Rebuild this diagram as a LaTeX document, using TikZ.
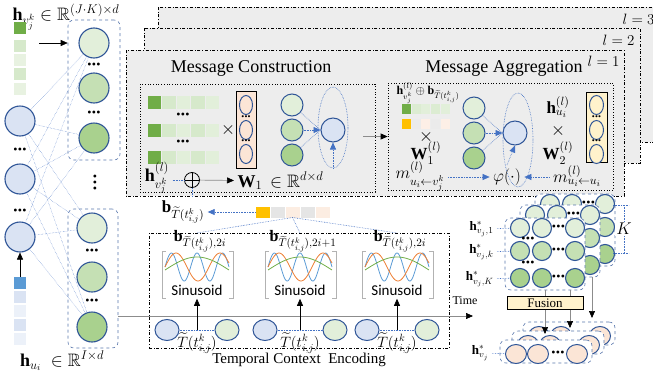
\RequirePackage{fix-cm}
\documentclass[tikz,border=0pt]{standalone}
\usepackage{amsmath}
\usepackage{amssymb}
\usepackage{fontspec}
\setmainfont{Liberation Serif}
\setsansfont{Carlito}
\usepackage{tikz}
\usetikzlibrary{arrows.meta}
\usetikzlibrary{positioning}
\usetikzlibrary{shapes.geometric}

\definecolor{ringblue}{HTML}{2F5597}
\definecolor{linkblue}{HTML}{4472C4}
\definecolor{nodeblue}{HTML}{DAE3F3}
\definecolor{greenA}{HTML}{E2EFDA}
\definecolor{greenB}{HTML}{C5E0B4}
\definecolor{greenC}{HTML}{A9D18E}
\definecolor{greenD}{HTML}{70AD47}
\definecolor{layergray}{HTML}{EDEDED}
\definecolor{peach}{HTML}{FBE5D6}
\definecolor{cream}{HTML}{FFF2CC}
\definecolor{amber}{HTML}{FFC000}
\definecolor{cellblue}{HTML}{5B9BD5}
\definecolor{waveblue}{HTML}{5B9BD5}
\definecolor{waveorange}{HTML}{ED7D31}
\definecolor{wavegreen}{HTML}{70AD47}

\newcommand{\fsz}[1]{\fontsize{#1}{#1}\selectfont}
\newcommand{\tdots}{{\fsz{12}\textbullet\kern0.3pt\textbullet\kern0.3pt\textbullet}}
\newcommand{\tvdots}{{\fsz{12}\baselineskip=6pt\vbox{\hbox{\textbullet}\hbox{\textbullet}\hbox{\textbullet}}}}

\tikzset{
  every picture/.style={font={\fsz{18}}, >={Triangle[width=6pt,length=7pt]}}}

\begin{document}
\begin{tikzpicture}[x=1pt, y=-1pt,
    layerbox/.style={draw, dash dot, fill=layergray, line width=0.5pt},
    inbox/.style={draw, dotted, line width=0.7pt, inner sep=0},
    neuron/.style={circle, draw=ringblue, line width=1.1pt, minimum size=30pt, inner sep=0},
    small neuron/.style={neuron, minimum size=22pt, line width=1pt},
    oval/.style={ellipse, draw=ringblue, line width=1pt, inner sep=0},
    groupbox/.style={draw=ringblue!80, dashed, rounded corners=6pt, inner sep=0, line width=0.6pt},
    cell/.style={inner sep=0, outer sep=0, minimum width=12pt, minimum height=12.5pt},
    link/.style={draw=linkblue, densely dotted, line width=0.6pt},
    flow/.style={draw=black!45, line width=0.7pt},
    blue tip/.style={-{Triangle[width=6pt,length=7pt,color=linkblue]}},
    black tip/.style={-{Triangle[width=6pt,length=7pt,color=black]}},
    heading/.style={font=\fsz{18}}]

  \useasboundingbox (0,0) rectangle (653,375);

  % stacked layers
  \draw[layerbox] (158,7) rectangle (662,142);
  \node (lThree) [anchor=east] at (658,19) {\fsz{15}$l=3$};
  \draw[layerbox] (144,28) rectangle (640,163);
  \node (lTwo) [anchor=east] at (638,40) {\fsz{15}$l=2$};
  \draw[layerbox] (126,50) rectangle (624,196);
  \node (lOne) [anchor=east] at (623,61) {\fsz{15}$l=1$};

  % message construction
  \node[heading] (mcTitle) at (251,68) {Message Construction};
  \node[inbox, minimum width=235pt, minimum height=108pt] (mcBox) at (257.5,138) {};
  \foreach \r/\y in {1/102,2/130,3/157}
    \foreach \c/\col in {1/greenD,2/greenB!70,3/greenA,4/greenB!70,5/greenA}
      \node[cell, fill=\col, minimum width=13.5pt, minimum height=13pt] (mc\r\c) at ({140+14.5*\c},\y) {};
  \node (mcDotsA) at (183,116) {\tdots};
  \node (mcDotsB) at (183,143) {\tdots};
  \node (mcTimes) at (228,130) {$\times$};
  \node[draw, fill=peach, line width=0.9pt, minimum width=20pt, minimum height=77pt, inner sep=0] (wBox) at (246,129.5) {};
  \foreach \y [count=\i] in {105,130,154}
    \node[oval, fill=peach, minimum width=13pt, minimum height=19pt] (wE\i) at (246,\y) {};
  \node[scale=0.7] (wDotsA) at (246,117.5) {\tdots};
  \node[scale=0.7] (wDotsB) at (246,142) {\tdots};
  \foreach \y/\col [count=\i] in {105/greenA,130/greenB,155/greenC}
    \node[small neuron, fill=\col] (mcN\i) at (292,\y) {};
  \node[small neuron, fill=nodeblue, minimum size=24pt] (mcAgg) at (333,130) {};
  \node[ellipse, link, minimum width=30pt, minimum height=81pt, inner sep=0] (mcLoop) at (333,127.5) {};
  \path[link] (mcN1) edge (mcAgg.west) (mcN3) edge (mcAgg.west);
  \path[link, blue tip] (mcN2) edge (mcAgg);
  \draw[link, blue tip] (mcLoop.south) -- (mcAgg.south);
  \node (hvLoc) at (157,178) {$\mathbf{h}^{(l)}_{v_j^k}$};
  \node[circle, draw, line width=0.8pt, minimum size=15pt, inner sep=0] (mcPlus) at (192,180) {};
  \draw[line width=0.8pt] (mcPlus.north) -- (mcPlus.south) (mcPlus.west) -- (mcPlus.east);
  \node[anchor=west] (wLbl) at (234,181) {$\mathbf{W}_1\,\in\mathbb{R}^{d\times d}$};
  \draw[link] (hvLoc.east |- mcPlus) -- (mcPlus);
  \draw[flow, black tip] (mcPlus) -- (wLbl);
  \coordinate (mcOut) at (363,136.5);

  % message aggregation
  \node[heading] (maTitle) at (504,68) {Message Aggregation};
  \node[inbox, minimum width=225pt, minimum height=107pt] (maBox) at (500.5,136.5) {};
  \draw[flow, black tip] (mcOut) -- (maBox.west);
  \node[font=\fsz{12}] (hbLbl) at (428,93) {$\mathbf{h}^{(l)}_{v_j^k}\oplus\mathbf{b}_{\widetilde{T}(t^k_{i,j})}$};
  \foreach \c/\col in {1/greenD,2/greenB!60,3/greenA,4/greenB!60,5/greenA}
    \node[cell, fill=\col, minimum width=9pt, minimum height=10pt] (maG\c) at ({397+9.6*\c},109) {};
  \foreach \c/\col in {1/amber,2/black!8,3/peach!60,4/black!8,5/peach!60}
    \node[cell, fill=\col, minimum width=9pt, minimum height=10pt] (maY\c) at ({397+9.6*\c},124) {};
  \node (maTimesA) at (426,137) {$\times$};
  \node[font=\fsz{17}] (maW1) at (426,153) {$\mathbf{W}^{(l)}_1$};
  \node[font=\fsz{17}] (mLeft) at (420,176) {$m^{(l)}_{u_i\leftarrow v_j^k}$};
  \foreach \y/\col [count=\i] in {108/greenA,133/greenB,158/greenC}
    \node[small neuron, fill=\col] (maN\i) at (474,\y) {};
  \node[small neuron, fill=nodeblue, minimum size=24pt] (maAgg) at (515,133) {};
  \node[ellipse, link, minimum width=30pt, minimum height=94pt, inner sep=0] (maLoop) at (518,140) {};
  \path[link] (maN1) edge (maAgg.west) (maN3) edge (maAgg.west);
  \path[link, blue tip] (maN2) edge (maAgg);
  \node[font=\fsz{17}] (phi) at (507,177) {$\varphi(\cdot)$};
  \node[font=\fsz{17}] (mRight) at (577,176) {$m^{(l)}_{u_i\leftarrow u_i}$};
  \draw[link, blue tip] (mLeft.east |- phi) -- (phi.west);
  \draw[link, blue tip] (mRight.west |- phi) -- (phi.east);
  \draw[link, blue tip] (phi.north) -- (maAgg.south);
  \node[font=\fsz{17}] (huLoc) at (558,107) {$\mathbf{h}^{(l)}_{u_i}$};
  \node (maTimesB) at (558,131) {$\times$};
  \node[font=\fsz{17}] (maW2) at (558,153) {$\mathbf{W}^{(l)}_2$};
  \node[draw, fill=cream, line width=0.9pt, minimum width=21pt, minimum height=70pt, inner sep=0] (w2Box) at (596.5,127) {};
  \foreach \y [count=\i] in {105,130,154}
    \node[oval, fill=cream, minimum width=14pt, minimum height=19pt] (w2E\i) at (596.5,\y) {};
  \node[scale=0.7] (w2DotsA) at (596.5,117.5) {\tdots};
  \node[scale=0.7] (w2DotsB) at (596.5,142) {\tdots};

  % time encoding
  \node[font=\fsz{17}] (bTime) at (183,212) {$\mathbf{b}_{\widetilde{T}(t^k_{i,j})}$};
  \draw[link] (mcPlus.south) -- (mcPlus.south |- bTime.north);
  \foreach \c/\col in {1/amber,2/black!10,3/peach!70,4/black!10,5/peach!70}
    \node[cell, fill=\col, minimum width=14pt, minimum height=11pt] (enc\c) at ({247.5+15*\c},212) {};
  \draw[link, blue tip] (enc1.west) -- (bTime.east);
  \coordinate (timeL) at (118,316);
  \coordinate (timeR) at (473,316);
  \draw[flow, black tip] (timeL) -- (timeR);
  \node[font=\fsz{12}] (timeLbl) at (465,301) {Time};
  \node[draw, dash dot, line width=0.6pt, minimum width=300pt, minimum height=115pt, inner sep=0] (tce) at (299,290.5) {};
  \node[font=\fsz{15}, below=1pt of tce] (tceLbl) {Temporal Context\ \ Encoding};
  \foreach \n/\c/\d/\s in {A/197/30/2i,B/300/35/2i+1,C/397/30/2i} {
    \coordinate (top\n) at (\c,233);
    \draw[link] (enc3.south) -- (top\n);
    \node[font=\fsz{16}] (bLbl\n) at (\c+3,241) {$\mathbf{b}_{\widetilde{T}(t^k_{i,j}),\s}$};
    \begin{scope}[shift={(\c-32,267)}]
      \draw[waveblue, line width=0.8pt] plot[domain=0:64, samples=90, smooth] (\x,{-14*sin(\x*14.0625)});
      \draw[waveorange, line width=0.8pt] plot[domain=0:64, samples=60, smooth] (\x,{-14*sin(\x*8.1818)});
      \draw[wavegreen, line width=0.8pt] plot[domain=0:64, samples=40, smooth] (\x,{3-13*sin(\x*2.8125)});
    \end{scope}
    \node[font=\sffamily\fsz{15}] (sin\n) at (\c,290) {Sinusoid};
    \draw[black!30, line width=0.6pt] (\c-31,251) -| (\c-35,298) -- (\c-31,298);
    \draw[black!30, line width=0.6pt] (\c+32,251) -| (\c+36,298) -- (\c+32,298);
    \node[oval, fill=nodeblue, minimum width=24pt, minimum height=21pt] (tl\n) at (\c-\d,330) {};
    \node[oval, fill=greenA, minimum width=24pt, minimum height=21pt] (tr\n) at (\c+\d,330) {};
    \draw[link] (tl\n) -- (tr\n);
    \coordinate (mid\n) at (\c,330);
    \draw[black tip, line width=0.6pt] (mid\n) -- (sin\n.south);
    \node[font=\fsz{15}] (tLbl\n) at (\c,343) {$\widetilde{T}(t^k_{i,j})$};
  }

  % left column
  \node (hvLbl) at (66,17) {$\mathbf{h}_{v_j^k}\in\mathbb{R}^{(J\cdot K)\times d}$};
  \foreach \y/\col [count=\i] in {28/greenD,46/greenB!70,60/greenA!80,74/greenB!70,89/greenA!80}
    \node[cell, fill=\col] (vc\i) at (20,\y) {};
  \foreach \y/\col [count=\i] in {283/cellblue,297/nodeblue,311/nodeblue!50,325/nodeblue,339/nodeblue!50}
    \node[cell, fill=\col] (uc\i) at (20,\y) {};
  \node (huLbl) at (62,361) {$\mathbf{h}_{u_i}\ \in\mathbb{R}^{I\times d}$};
  \node[groupbox, minimum width=52pt, minimum height=140pt] (gTbox) at (94,90) {};
  \node[groupbox, minimum width=50pt, minimum height=139pt] (gBbox) at (93,278.5) {};
  \coordinate (vIn) at (39,43);
  \draw[black tip, line width=0.6pt] (vIn) -- (gTbox.west |- vIn);
  \foreach \y [count=\i] in {121,179,237}
    \node[neuron, fill=nodeblue] (uL\i) at (20,\y) {};
  \foreach \y/\col [count=\i] in {43/greenA,88/greenB,138/greenC}
    \node[neuron, fill=\col] (gT\i) at (94,\y) {};
  \foreach \y/\col [count=\i] in {228/greenA,277/greenB,327/greenC}
    \node[neuron, fill=\col] (gB\i) at (92,\y) {};
  \foreach \a in {1,2,3}
    \foreach \b in {gT1,gT3,gB1,gB3}
      \draw[link, line width=0.4pt] (uL\a) -- (\b);
  \node (uDotsA) at (20,151) {\tdots};
  \node (uDotsB) at (20,212) {\tdots};
  \node (gDotsA) at (94,66) {\tdots};
  \node (gDotsB) at (94,114) {\tdots};
  \node (gDotsC) at (92,252) {\tdots};
  \node (gDotsD) at (92,302) {\tdots};
  \node (gDotsV) at (95,184) {\tvdots};
  \draw[black tip, line width=0.6pt] (uc1.north) -- (uL3.south);

  % neighbour layers
  \foreach \l/\dx/\dy in {3/30/-24,2/15/-13,1/0/0} {
    \node[groupbox, fill=white, minimum width=80pt, minimum height=72pt] (kBox\l) at (545+\dx,254+\dy) {};
    \foreach \r/\y/\col in {1/228/greenA,2/251/greenB,3/278/greenC} {
      \foreach \cc/\x in {1/520,2/542,3/575}
        \node[neuron, minimum size=19pt, fill=\col] (k\l-\r-\cc) at (\x+\dx,\y+\dy) {};
      \node (kd\l-\r) at (558.5+\dx,\y+\dy) {\tdots};
    }
    \node (kv\l-1) at (528+\dx,240+\dy) {\tdots};
    \node (kv\l-2) at (528+\dx,264+\dy) {\tdots};
  }
  \foreach \r/\y/\s in {1/229/1,2/252/k,3/279/K} {
    \node[anchor=east, font=\fsz{13}] (hs\r) at (497,\y) {$\mathbf{h}^*_{v_j,\s}$};
    \draw[link] (hs\r) -- (k1-\r-1);
  }
  \coordinate (kT0) at (613,205);
  \coordinate (kT1) at (629,205);
  \coordinate (kB0) at (613,253);
  \coordinate (kB1) at (629,253);
  \coordinate (kT) at (624,205);
  \coordinate (kB) at (624,253);
  \node[fill=white, inner sep=1pt, font=\fsz{17}] (kLbl) at (624,229) {$K$};
  \draw[link] (kT0) -- (kT1) (kB0) -- (kB1);
  \draw[link] (kT) -- (kLbl) -- (kB);

  % fusion and output
  \foreach \l/\dx/\dy in {3/23/-18,2/12/-9,1/0/0} {
    \node[groupbox, fill=white, minimum width=92pt, minimum height=23pt] (oBox\l) at (546+\dx,351.5+\dy) {};
    \foreach \cc/\x in {1/516,2/538,3/577}
      \node[oval, fill=peach, minimum width=21pt, minimum height=19pt] (o\l-\cc) at (\x+\dx,354+\dy) {};
    \node (od\l) at (558+\dx,354+\dy) {\tdots};
  }
  \node[anchor=east, font=\fsz{13}] (hsOut) at (492,353) {$\mathbf{h}^*_{v_j}$};
  \draw[link] (hsOut) -- (o1-1);
  \node[draw, fill=cream, line width=0.8pt, minimum width=76pt, minimum height=13pt, inner sep=0, font=\fsz{13}] (fusion) at (545,303) {Fusion};
  \coordinate (fA) at (545,290);
  \coordinate (fB) at (570,290);
  \coordinate (fAend) at (545,334);
  \coordinate (fBend) at (570,328);
  \coordinate (fC) at (592,277);
  \coordinate (fCend) at (592,318);
  \draw[flow] (fA) -- (fA |- fusion.north) (fB) -- (fB |- fusion.north);
  \draw[flow, black tip] (fA |- fusion.south) -- (fAend);
  \draw[flow, black tip] (fB |- fusion.south) -- (fBend);
  \draw[flow, black tip] (fC) -- (fCend);
\end{tikzpicture}
\end{document}
